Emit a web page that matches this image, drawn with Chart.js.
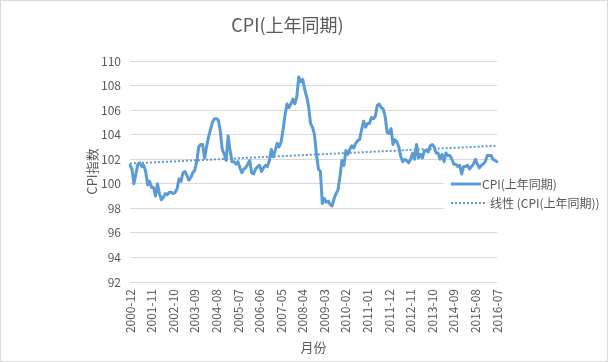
<!DOCTYPE html>
<html>
<head>
<meta charset="utf-8">
<script src="https://cdn.jsdelivr.net/npm/chart.js@4"></script>
<style>
  html, body { margin: 0; padding: 0; background: #fff; }
</style>
</head>
<body>
<canvas id="myChart" width="608" height="362"></canvas>
<script>
// CPI, same month of previous year = 100, Dec 2000 .. Jul 2016
const cpi2000 = [101.5];
const cpi2001 = [101.2, 100.0, 100.8, 101.6, 101.7, 101.4, 101.5, 101.0, 99.9, 100.2, 99.7, 99.7];
const cpi2002 = [99.0, 100.0, 99.2, 98.7, 98.9, 99.2, 99.1, 99.3, 99.3, 99.2, 99.3, 99.6];
const cpi2003 = [100.4, 100.2, 100.9, 101.0, 100.7, 100.3, 100.5, 100.9, 101.1, 101.8, 103.0, 103.2];
const cpi2004 = [103.2, 102.1, 103.0, 103.8, 104.4, 105.0, 105.3, 105.3, 105.2, 104.3, 102.8, 102.4];
const cpi2005 = [101.9, 103.9, 102.7, 101.8, 101.8, 101.6, 101.8, 101.3, 100.9, 101.2, 101.3, 101.6];
const cpi2006 = [101.9, 100.9, 100.8, 101.2, 101.4, 101.5, 101.0, 101.3, 101.5, 101.4, 101.9, 102.8];
const cpi2007 = [102.2, 102.7, 103.3, 103.0, 103.4, 104.4, 105.6, 106.5, 106.2, 106.5, 106.9, 106.5];
const cpi2008 = [107.1, 108.7, 108.3, 108.5, 107.7, 107.1, 106.3, 104.9, 104.6, 104.0, 102.4, 101.2];
const cpi2009 = [101.0, 98.4, 98.8, 98.5, 98.6, 98.3, 98.2, 98.8, 99.2, 99.5, 100.6, 101.9];
const cpi2010 = [101.5, 102.7, 102.4, 102.8, 103.1, 102.9, 103.3, 103.5, 103.6, 104.4, 105.1, 104.6];
const cpi2011 = [104.9, 104.9, 105.4, 105.3, 105.5, 106.4, 106.5, 106.2, 106.1, 105.5, 104.2, 104.1];
const cpi2012 = [104.5, 103.2, 103.6, 103.4, 103.0, 102.2, 101.8, 102.0, 101.9, 101.7, 102.0, 102.5];
const cpi2013 = [102.0, 103.2, 102.1, 102.4, 102.1, 102.7, 102.7, 102.6, 103.1, 103.2, 103.0, 102.5];
const cpi2014 = [102.5, 102.0, 102.4, 101.8, 102.5, 102.3, 102.3, 102.0, 101.6, 101.6, 101.4, 101.5];
const cpi2015 = [100.8, 101.4, 101.4, 101.5, 101.2, 101.4, 101.6, 102.0, 101.6, 101.3, 101.5, 101.6];
const cpi2016 = [101.8, 102.3, 102.3, 102.3, 102.0, 101.9, 101.8];

const cpiValues = [].concat(cpi2000, cpi2001, cpi2002, cpi2003, cpi2004, cpi2005,
  cpi2006, cpi2007, cpi2008, cpi2009, cpi2010, cpi2011, cpi2012, cpi2013,
  cpi2014, cpi2015, cpi2016);

// linear trend line, end values
const trendStart = 101.65;
const trendEnd = 103.1;

const tickLabels = ["2000-12", "2001-11", "2002-10", "2003-09", "2004-08", "2005-07",
  "2006-06", "2007-05", "2008-04", "2009-03", "2010-02", "2011-01", "2011-12",
  "2012-11", "2013-10", "2014-09", "2015-08", "2016-07"];

const yTicks = [92, 94, 96, 98, 100, 102, 104, 106, 108, 110];

// month labels for every data point
const months = [];
let y = 2000, m = 12;
for (let i = 0; i < cpiValues.length; i++) {
  months.push(y + "-" + String(m).padStart(2, "0"));
  m++;
  if (m > 12) { m = 1; y++; }
}

const trendValues = cpiValues.map(() => null);
trendValues[0] = trendStart;
trendValues[trendValues.length - 1] = trendEnd;

const fontFamily = "'Noto Sans CJK SC', 'Noto Sans', sans-serif";
const textColor = "#595959";
const lineColor = "#5B9BD5";

Chart.defaults.font.family = fontFamily;
Chart.defaults.color = textColor;

// white background + thin grey frame like the Excel chart area
const chartFrame = {
  id: "chartFrame",
  beforeDraw(chart) {
    const c = chart.ctx;
    c.save();
    c.fillStyle = "#fff";
    c.fillRect(0, 0, chart.width, chart.height);
    c.strokeStyle = "#d9d9d9";
    c.lineWidth = 1;
    c.strokeRect(0.5, 0.5, chart.width - 1, chart.height - 1);
    c.restore();
  },
};

// legend laid over the plot area on the right
const overlayLegend = {
  id: "overlayLegend",
  beforeDatasetsDraw(chart) {
    const c = chart.ctx;
    const sets = chart.data.datasets;
    c.save();
    c.fillStyle = "#fff";
    c.fillRect(444, 177, 160, 37);
    c.font = "12px " + fontFamily;
    c.textBaseline = "middle";
    c.fillStyle = textColor;

    c.strokeStyle = sets[0].borderColor;
    c.lineWidth = 3;
    c.beginPath();
    c.moveTo(451, 184);
    c.lineTo(481, 184);
    c.stroke();
    c.fillText(sets[0].label, 482, 184);

    c.strokeStyle = sets[1].borderColor;
    c.lineWidth = 2;
    c.setLineDash(sets[1].borderDash);
    c.beginPath();
    c.moveTo(451, 203);
    c.lineTo(485, 203);
    c.stroke();
    c.setLineDash([]);
    c.fillText(sets[1].label, 490, 203);
    c.restore();
  },
};

const ctx = document.getElementById("myChart").getContext("2d");
const myChart = new Chart(ctx, {
  type: "line",
  data: {
    labels: months,
    datasets: [
      {
        label: "CPI(上年同期)",
        data: cpiValues,
        borderColor: lineColor,
        borderWidth: 3,
        pointRadius: 0,
        tension: 0,
        borderJoinStyle: "round",
        borderCapStyle: "round",
      },
      {
        label: "线性 (CPI(上年同期))",
        data: trendValues,
        borderColor: lineColor,
        borderWidth: 2,
        borderDash: [2, 2],
        pointRadius: 0,
        spanGaps: true,
      },
    ],
  },
  options: {
    responsive: false,
    animation: false,
    layout: { padding: { left: 78, right: 111, top: 0, bottom: 3 } },
    plugins: {
      legend: { display: false },
      tooltip: { enabled: false },
      title: {
        display: true,
        text: "CPI(上年同期)",
        color: textColor,
        font: { size: 18, weight: "normal" },
        padding: { top: 14, bottom: 25.4 },
      },
    },
    scales: {
      x: {
        grid: { display: false, drawTicks: false },
        border: { display: false },
        ticks: {
          autoSkip: false,
          minRotation: 90,
          maxRotation: 90,
          padding: 7,
          color: textColor,
          font: { size: 12 },
          callback: function (value) {
            const lab = this.getLabelForValue(value);
            return tickLabels.includes(lab) ? lab : "";
          },
        },
        title: {
          display: true,
          text: "月份",
          color: textColor,
          font: { size: 13 },
          padding: { top: 4, bottom: 4 },
        },
        afterFit(scale) { scale.height = 77; },
      },
      y: {
        min: yTicks[0],
        max: yTicks[yTicks.length - 1],
        afterBuildTicks(scale) { scale.ticks = yTicks.map((v) => ({ value: v })); },
        grid: { color: "#d9d9d9", drawTicks: false },
        border: { display: false },
        ticks: { padding: 9, color: textColor, font: { size: 12 } },
        title: {
          display: true,
          text: "CPI指数",
          color: textColor,
          font: { size: 13 },
          padding: { top: 6, bottom: 0 },
        },
        afterFit(scale) { scale.width = 52; },
      },
    },
  },
  plugins: [chartFrame, overlayLegend],
});
</script>
</body>
</html>
